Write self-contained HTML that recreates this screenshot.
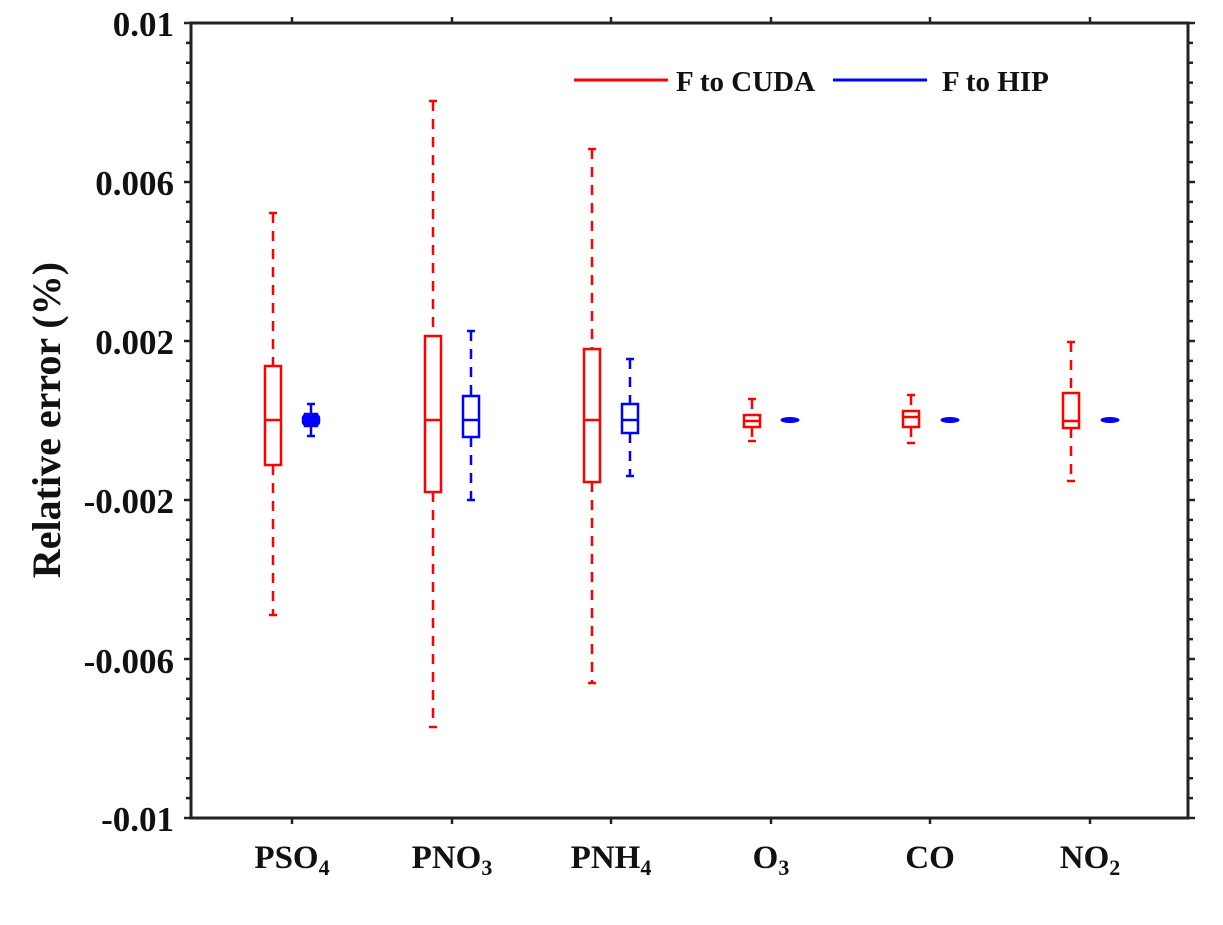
<!DOCTYPE html>
<html><head><meta charset="utf-8"><style>
html,body{margin:0;padding:0;background:#fff;}
svg{display:block;}
text{font-family:"Liberation Serif",serif;font-weight:bold;fill:#111;}
</style></head><body>
<svg id="s" width="1223" height="925" viewBox="0 0 1223 925" xmlns="http://www.w3.org/2000/svg">
<rect x="191" y="23" width="997" height="795" fill="none" stroke="#222" stroke-width="3"/>
<g id="ticks" stroke="#222" stroke-width="2.5"></g>
<g id="boxes" fill="none" stroke-width="2.5"></g>
<g font-size="35" text-anchor="end">
<text x="174" y="36">0.01</text>
<text x="174" y="195">0.006</text>
<text x="174" y="354">0.002</text>
<text x="174" y="513">-0.002</text>
<text x="174" y="673">-0.006</text>
<text x="174" y="831">-0.01</text>
</g>
<text transform="translate(60,420) rotate(-90)" font-size="40" text-anchor="middle">Relative error (%)</text>
<g font-size="33" text-anchor="middle">
<text x="292" y="868">PSO<tspan font-size="22" dy="7">4</tspan></text>
<text x="452" y="868">PNO<tspan font-size="22" dy="7">3</tspan></text>
<text x="611" y="868">PNH<tspan font-size="22" dy="7">4</tspan></text>
<text x="771" y="868">O<tspan font-size="22" dy="7">3</tspan></text>
<text x="930" y="868">CO</text>
<text x="1090" y="868">NO<tspan font-size="22" dy="7">2</tspan></text>
</g>
<line x1="574" y1="80" x2="668" y2="80" stroke="#f00" stroke-width="3"/>
<text x="676" y="91" font-size="29">F to CUDA</text>
<line x1="833" y1="80" x2="927" y2="80" stroke="#00f" stroke-width="3"/>
<text x="942" y="91" font-size="29">F to HIP</text>
</svg>
<script>
var NS="http://www.w3.org/2000/svg";
function el(p,t,a){var e=document.createElementNS(NS,t);for(var k in a)e.setAttribute(k,a[k]);p.appendChild(e);return e;}
var T=document.getElementById('ticks');
for(var i=0;i<=40;i++){var y=23+i*795/40;var L=(i%8==0)?7:5;
el(T,'line',{x1:191-L,y1:y,x2:191,y2:y});el(T,'line',{x1:1188,y1:y,x2:1188+L,y2:y});}
[292,452,611,771,930,1090].forEach(function(x){el(T,'line',{x1:x,y1:818,x2:x,y2:824});el(T,'line',{x1:x,y1:23,x2:x,y2:17});});
var B=document.getElementById('boxes');
function box(x,c,wt,bt,md,bb,wb,w){w=w||16;
 el(B,'line',{x1:x,y1:wt,x2:x,y2:bt,stroke:c,'stroke-dasharray':'10,8'});
 el(B,'line',{x1:x,y1:bb,x2:x,y2:wb,stroke:c,'stroke-dasharray':'10,8'});
 el(B,'line',{x1:x-4,y1:wt,x2:x+4,y2:wt,stroke:c});
 el(B,'line',{x1:x-4,y1:wb,x2:x+4,y2:wb,stroke:c});
 el(B,'rect',{x:x-w/2,y:bt,width:w,height:bb-bt,stroke:c});
 el(B,'line',{x1:x-w/2,y1:md,x2:x+w/2,y2:md,stroke:c});}
var R='#f00',U='#00f';
box(273,R,213,366,420,465,615);
box(471,U,331,396,420,437,500);
box(433,R,101,336,420,492,727);
box(592,R,149,349,420,482,683);
box(630,U,359,404,420,433,476);
box(752,R,399,415,421,427,441);
box(911,R,395,411,417,427,443);
box(1071,R,342,393,421,428,481);
box(311,U,404,414,420,426,436,12);
el(B,'rect',{x:303,y:415,width:16,height:10,fill:U,stroke:U,rx:3});
[790,950,1110].forEach(function(x){el(B,'ellipse',{cx:x,cy:420,rx:9,ry:2.5,fill:U,stroke:U,'stroke-width':1});});
</script>
</body></html>
